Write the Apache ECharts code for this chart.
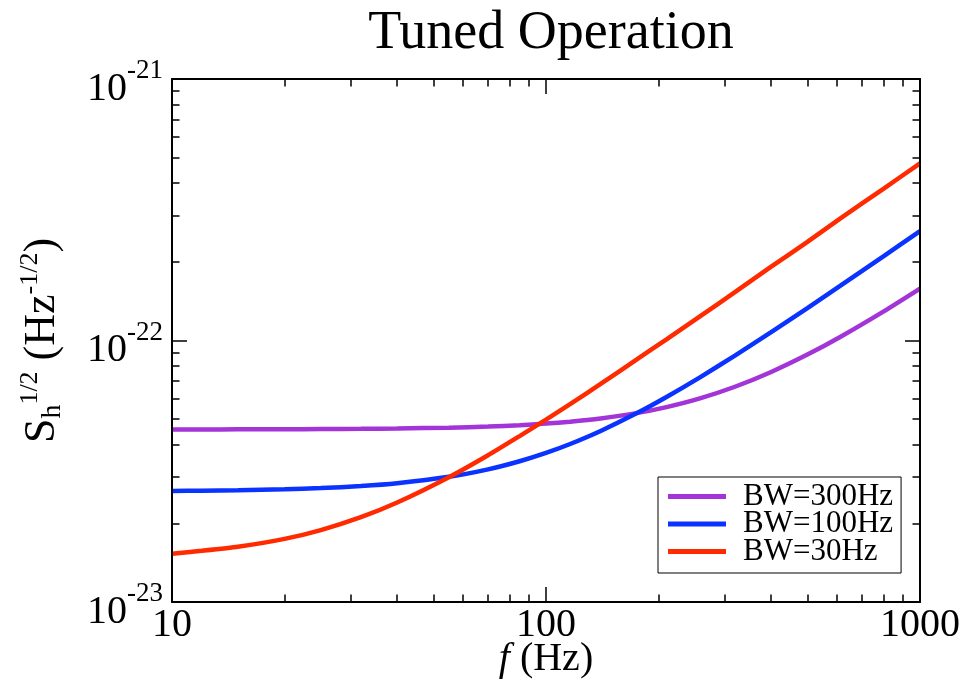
<!DOCTYPE html>
<html><head><meta charset="utf-8">
<script src="https://cdn.jsdelivr.net/npm/echarts@6/dist/echarts.min.js"></script>
<style>html,body{margin:0;padding:0;background:#fff}#c{width:965px;height:685px}</style>
</head><body><div id="c"></div>
<script>
// ---- data (amplitude in Hz^-1/2) ----
const freq   = [10, 12, 15, 20, 25, 32, 40, 55, 70, 85, 100, 116, 140, 173, 210, 258, 320, 400, 500, 610, 800, 1000];
const bw300  = [4.57e-23, 4.57e-23, 4.573e-23, 4.577e-23, 4.583e-23, 4.593e-23, 4.607e-23, 4.642e-23, 4.688e-23, 4.745e-23, 4.811e-23, 4.892e-23, 5.034e-23, 5.263e-23, 5.563e-23, 6.006e-23, 6.654e-23, 7.58e-23, 8.833e-23, 1.0295e-22, 1.293e-22, 1.58e-22];
const bw100  = [2.66e-23, 2.665e-23, 2.676e-23, 2.698e-23, 2.726e-23, 2.775e-23, 2.845e-23, 3.011e-23, 3.215e-23, 3.453e-23, 3.716e-23, 4.02e-23, 4.51e-23, 5.231e-23, 6.083e-23, 7.23e-23, 8.755e-23, 1.076e-22, 1.331e-22, 1.613e-22, 2.103e-22, 2.621e-22];
const bw30   = [1.53e-23, 1.569e-23, 1.626e-23, 1.744e-23, 1.884e-23, 2.11e-23, 2.40e-23, 3.0e-23, 3.64e-23, 4.31e-23, 4.98e-23, 5.71e-23, 6.82e-23, 8.38e-23, 1.01e-22, 1.237e-22, 1.53e-22, 1.915e-22, 2.384e-22, 2.92e-22, 3.81e-22, 4.76e-22];
const seriesNames = ['BW=300Hz', 'BW=100Hz', 'BW=30Hz'];
const xMajorTicks = [10, 100, 1000];
const xMinorTicks = [20, 30, 40, 50, 60, 70, 80, 90, 200, 300, 400, 500, 600, 700, 800, 900];
const yMajorTicks = [1e-23, 1e-22, 1e-21];
const yMinorTicks = [2e-23, 3e-23, 4e-23, 5e-23, 6e-23, 7e-23, 8e-23, 9e-23, 2e-22, 3e-22, 4e-22, 5e-22, 6e-22, 7e-22, 8e-22, 9e-22];
const titleText = 'Tuned Operation';

// values are plotted in units of 1e-23 (avoids precision trouble with tiny numbers)
const Y_UNIT_EXP = 23;
const toUnit = v => v * Math.pow(10, Y_UNIT_EXP);

const SERIF = 'Liberation Serif';
const colors = ['#a234d8', '#0a33ff', '#ff2a00'];
const seriesData = [bw300, bw100, bw30];

function axis(dim, gridIndex, position, ticks, len, withLine, withLabel) {
  const isX = dim === 'x';
  const tv = isX ? ticks : ticks.map(toUnit);
  const a = {
    type: 'log', logBase: 10, gridIndex, position,
    min: isX ? 10 : toUnit(1e-23), max: isX ? 1000 : toUnit(1e-21),
    splitLine: { show: false }, minorTick: { show: false }, minorSplitLine: { show: false },
    axisLine: { show: withLine, onZero: false, lineStyle: { color: '#000', width: 2 } },
    axisTick: { show: true, inside: true, length: len, customValues: tv, lineStyle: { color: '#000', width: 1.5 } },
    axisLabel: { show: false },
    z: 5
  };
  if (withLabel) {
    if (isX) {
      a.axisLabel = { show: true, customValues: tv, margin: 3, color: '#000', fontFamily: SERIF, fontSize: 40,
        formatter: v => String(Math.round(v)) };
      a.name = '{i|f}{a| (Hz)}';
      a.nameLocation = 'middle';
      a.nameGap = 37;
      a.nameMoveOverlap = false;
      a.nameTextStyle = { rich: {
        i: { fontFamily: SERIF, fontSize: 40, fontStyle: 'italic', color: '#000' },
        a: { fontFamily: SERIF, fontSize: 40, color: '#000' } } };
    } else {
      a.axisLabel = { show: true, customValues: tv, margin: 9, color: '#000',
        formatter: v => '{b|10}{s|' + (Math.round(Math.log10(v)) - Y_UNIT_EXP) + '}',
        rich: {
          b: { fontFamily: SERIF, fontSize: 40, color: '#000', padding: [20, 0, 0, 0] },
          s: { fontFamily: SERIF, fontSize: 27, color: '#000', padding: [0, 0, 16, 0] } } };
      a.name = '{a|S}{sub|h}{sup|1/2}{a| (Hz}{sup|-1/2}{a|)}';
      a.nameLocation = 'middle';
      a.nameGap = 105;
      a.nameRotate = 90;
      a.nameMoveOverlap = false;
      a.nameTextStyle = { rich: {
        a: { fontFamily: SERIF, fontSize: 44, color: '#000' },
        sub: { fontFamily: SERIF, fontSize: 28, color: '#000', padding: [22, 0, 0, 0] },
        sup: { fontFamily: SERIF, fontSize: 26, color: '#000', padding: [0, 0, 24, 0] } } };
    }
  }
  return a;
}

const gridBox = { left: 172, right: 45, top: 79, bottom: 83, containLabel: false, outerBoundsMode: 'none' };

const option = {
  backgroundColor: '#fff',
  animation: false,
  title: { text: titleText, left: 546, textAlign: 'center', top: 2,
    textStyle: { fontFamily: SERIF, fontSize: 54, fontWeight: 'normal', color: '#000' } },
  grid: [Object.assign({}, gridBox), Object.assign({}, gridBox)],
  xAxis: [
    axis('x', 0, 'bottom', xMajorTicks, 15, true, true),
    axis('x', 0, 'top', xMajorTicks, 15, true, false),
    axis('x', 1, 'bottom', xMinorTicks, 7.5, false, false),
    axis('x', 1, 'top', xMinorTicks, 7.5, false, false)
  ],
  yAxis: [
    axis('y', 0, 'left', yMajorTicks, 15, true, true),
    axis('y', 0, 'right', yMajorTicks, 15, true, false),
    axis('y', 1, 'left', yMinorTicks, 7.5, false, false),
    axis('y', 1, 'right', yMinorTicks, 7.5, false, false)
  ],
  legend: {
    data: seriesNames.map(n => ({ name: n, icon: 'rect' })),
    orient: 'vertical', left: 658, top: 477,
    itemWidth: 58, itemHeight: 5, itemGap: -3.5,
    padding: [4, 8, 6, 10],
    borderColor: '#000', borderWidth: 1, backgroundColor: '#fff',
    textStyle: { fontFamily: SERIF, fontSize: 31, color: '#000', lineHeight: 28.5, padding: [0, 0, 0, 12] }
  },
  series: seriesNames.map((n, i) => ({
    name: n, type: 'line', xAxisIndex: 0, yAxisIndex: 0,
    data: freq.map((f, k) => [f, toUnit(seriesData[i][k])]),
    smooth: 0.2, symbol: 'none', showSymbol: false,
    color: colors[i],
    itemStyle: { color: colors[i] },
    lineStyle: { color: colors[i], width: 4.5 },
    z: 3
  }))
};

const chart = echarts.init(document.getElementById('c'), null, { renderer: 'canvas' });
chart.setOption(option);
</script>
</body></html>
